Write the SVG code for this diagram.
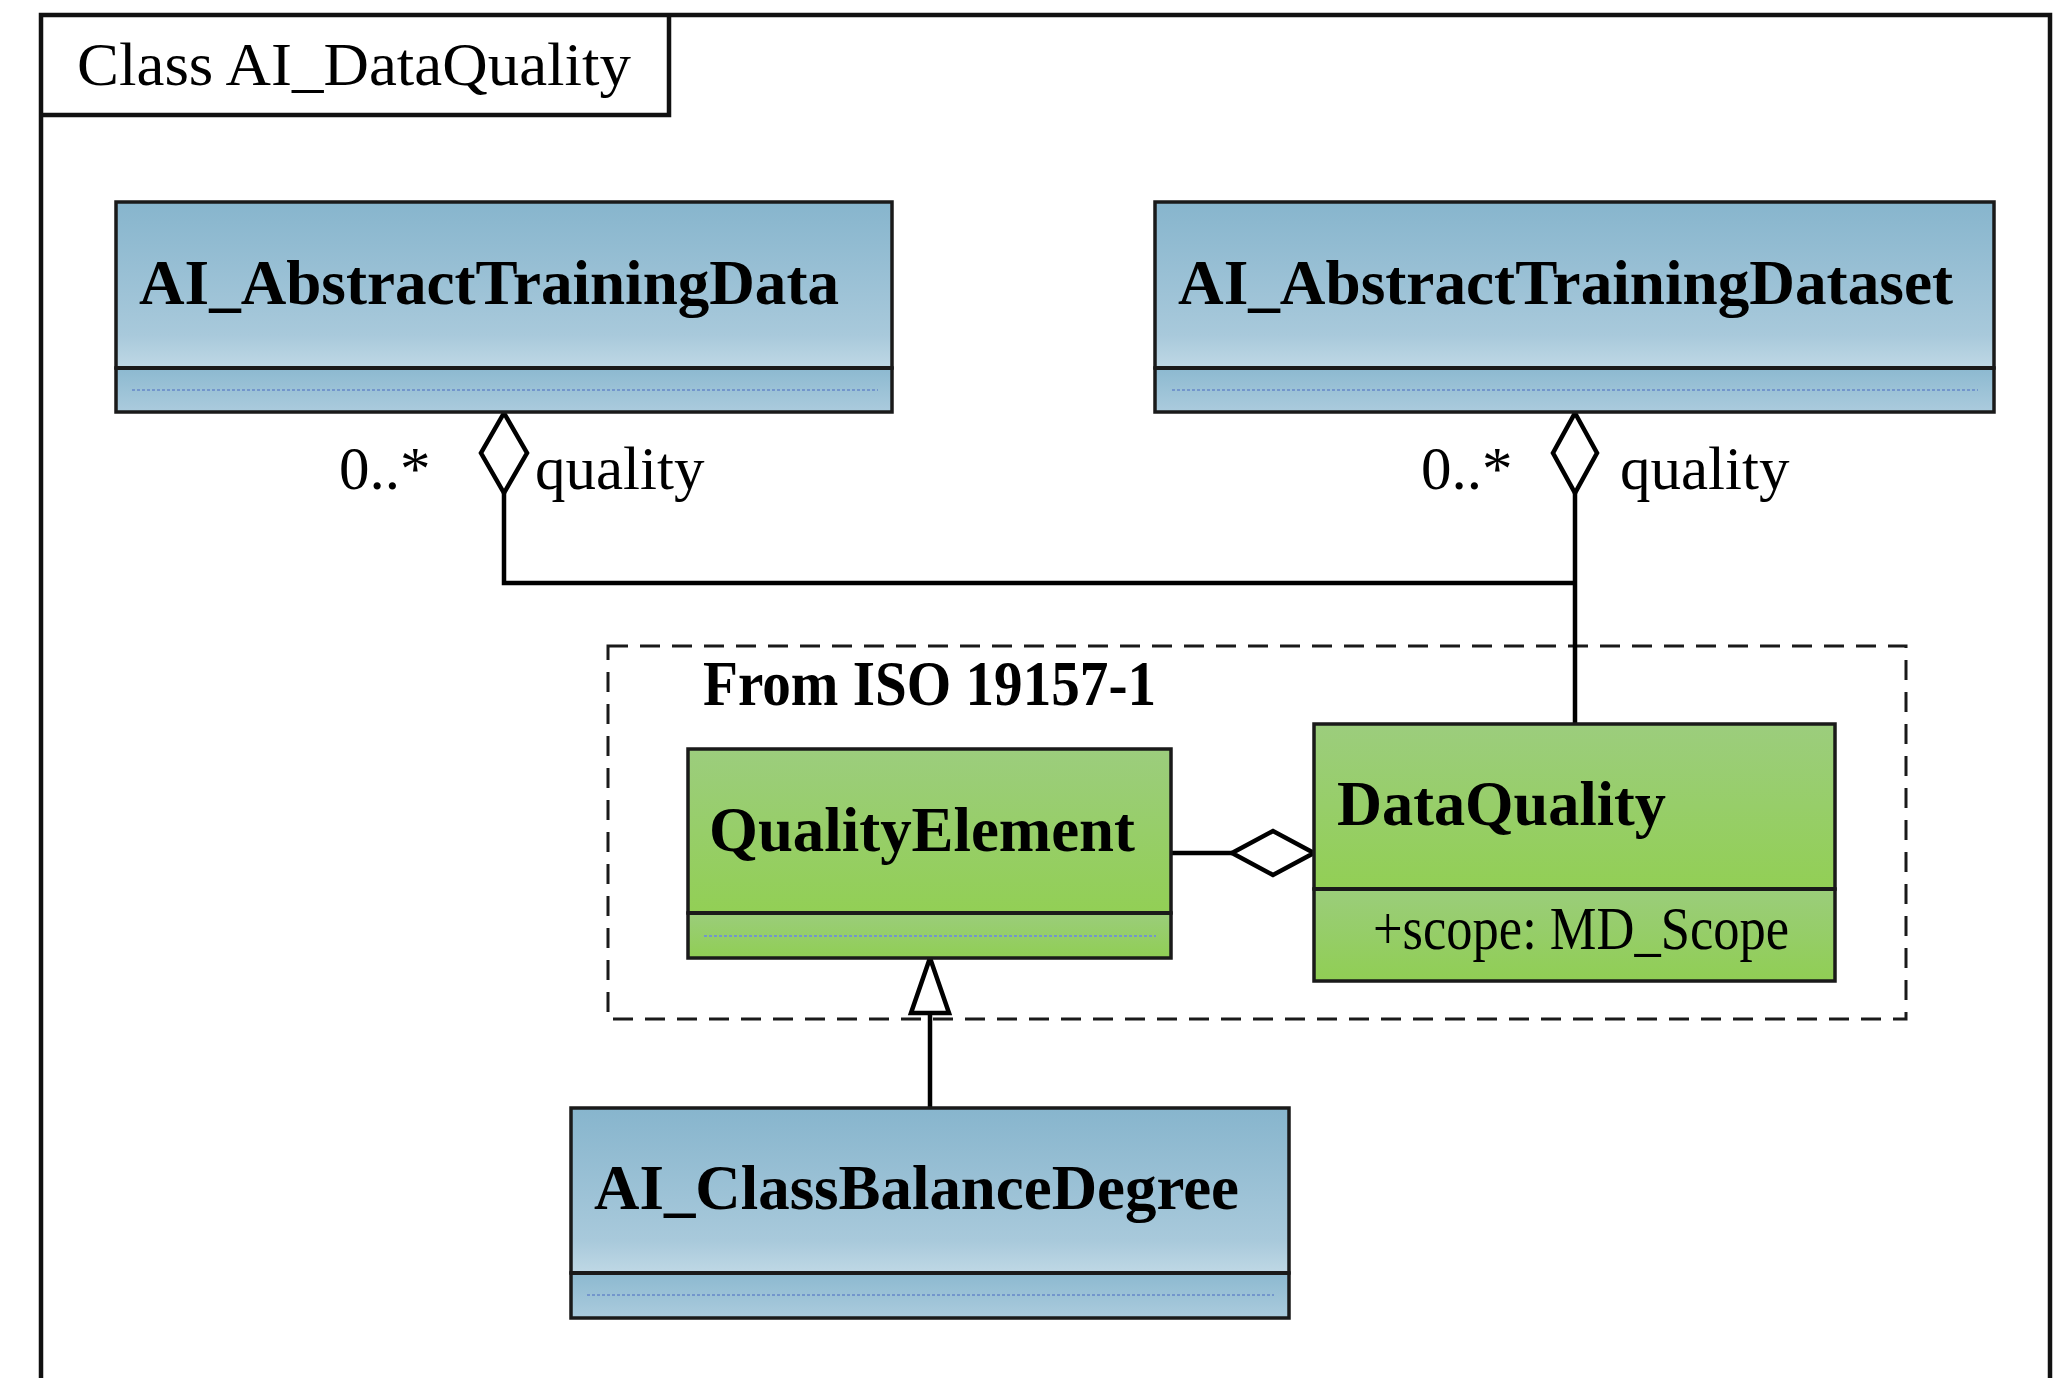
<svg xmlns="http://www.w3.org/2000/svg" width="2060" height="1378" viewBox="0 0 2060 1378">
  <defs>
    <linearGradient id="blueHead" x1="0" y1="0" x2="0" y2="1">
      <stop offset="0" stop-color="#87b5cd"/>
      <stop offset="0.8" stop-color="#a8c9db"/>
      <stop offset="1" stop-color="#bfd8e5"/>
    </linearGradient>
    <linearGradient id="blueAttr" x1="0" y1="0" x2="0" y2="1">
      <stop offset="0" stop-color="#8cb9d0"/>
      <stop offset="1" stop-color="#abcbdd"/>
    </linearGradient>
    <linearGradient id="greenHead" x1="0" y1="0" x2="0" y2="1">
      <stop offset="0" stop-color="#9ccd7d"/>
      <stop offset="1" stop-color="#92cf55"/>
    </linearGradient>
    <linearGradient id="greenAttr" x1="0" y1="0" x2="0" y2="1">
      <stop offset="0" stop-color="#9bcd7b"/>
      <stop offset="1" stop-color="#90ce54"/>
    </linearGradient>
    <style>
      .frame { fill: none; stroke: #111; stroke-width: 4.5; }
      .box { stroke: #1a1a1a; stroke-width: 3.5; }
      .sep { stroke: #1a1a1a; stroke-width: 4; }
      .dots { stroke: #7396cc; stroke-width: 2; stroke-dasharray: 3 2; }
      .pkg { fill: none; stroke: #1a1a1a; stroke-width: 3; stroke-dasharray: 20 12; }
      .conn { fill: none; stroke: #000; stroke-width: 4.5; }
      .head { fill: #fff; stroke: #000; stroke-width: 4.5; stroke-linejoin: miter; }
      .cls { font-family: "Liberation Serif", "Times New Roman", serif; font-weight: bold; font-size: 63px; fill: #000; }
      .lbl { font-family: "Liberation Serif", "Times New Roman", serif; font-size: 61px; fill: #000; }
    </style>
  </defs>

  <rect width="2060" height="1378" fill="#fff"/>

  <!-- diagram frame with its name tab -->
  <g id="frame">
    <path class="frame" d="M41,1390 V15 H2050 V1390"/>
    <path class="frame" d="M41,115 H669 V15"/>
    <text class="lbl" x="77" y="85" font-size="65" textLength="554" lengthAdjust="spacingAndGlyphs">Class AI_DataQuality</text>
  </g>

  <!-- package borrowed from ISO 19157-1 -->
  <g id="iso19157">
    <rect class="pkg" x="608" y="646" width="1298" height="373"/>
    <text class="cls" x="703" y="705" font-size="58" textLength="453" lengthAdjust="spacingAndGlyphs">From ISO 19157-1</text>
  </g>

  <!-- associations and generalization -->
  <g id="connectors">
    <path class="conn" d="M504,493 V583 H1575"/>
    <polygon class="head" points="504,413 527,453 504,493 481,453"/>
    <path class="conn" d="M1575,493 V724"/>
    <polygon class="head" points="1575,413 1597,453 1575,493 1553,453"/>
    <path class="conn" d="M1171,853 H1232"/>
    <polygon class="head" points="1232,853 1273,831 1314,853 1273,875"/>
    <path class="conn" d="M930,1013 V1108"/>
    <polygon class="head" points="930,958 949,1013 911,1013"/>
    <text class="lbl" x="339" y="489" font-size="60">0..*</text>
    <text class="lbl" x="535" y="489">quality</text>
    <text class="lbl" x="1421" y="489" font-size="60">0..*</text>
    <text class="lbl" x="1620" y="489">quality</text>
  </g>

  <g id="AI_AbstractTrainingData">
    <rect class="box" x="116" y="202" width="776" height="166" fill="url(#blueHead)"/>
    <rect class="box" x="116" y="368" width="776" height="44" fill="url(#blueAttr)"/>
    <line class="sep" x1="116" y1="368" x2="892" y2="368"/>
    <line class="dots" x1="132" y1="390" x2="878" y2="390"/>
    <text class="cls" x="139" y="304" textLength="700" lengthAdjust="spacingAndGlyphs">AI_AbstractTrainingData</text>
  </g>

  <g id="AI_AbstractTrainingDataset">
    <rect class="box" x="1155" y="202" width="839" height="166" fill="url(#blueHead)"/>
    <rect class="box" x="1155" y="368" width="839" height="44" fill="url(#blueAttr)"/>
    <line class="sep" x1="1155" y1="368" x2="1994" y2="368"/>
    <line class="dots" x1="1172" y1="390" x2="1978" y2="390"/>
    <text class="cls" x="1178" y="304" textLength="775" lengthAdjust="spacingAndGlyphs">AI_AbstractTrainingDataset</text>
  </g>

  <g id="QualityElement">
    <rect class="box" x="688" y="749" width="483" height="164" fill="url(#greenHead)"/>
    <rect class="box" x="688" y="913" width="483" height="45" fill="url(#greenAttr)"/>
    <line class="sep" x1="688" y1="913" x2="1171" y2="913"/>
    <line class="dots" x1="704" y1="936" x2="1156" y2="936"/>
    <text class="cls" x="709" y="851" textLength="426" lengthAdjust="spacingAndGlyphs">QualityElement</text>
  </g>

  <g id="DataQuality">
    <rect class="box" x="1314" y="724" width="521" height="165" fill="url(#greenHead)"/>
    <rect class="box" x="1314" y="889" width="521" height="92" fill="url(#greenAttr)"/>
    <line class="sep" x1="1314" y1="889" x2="1835" y2="889"/>
    <text class="cls" x="1337" y="825" textLength="329" lengthAdjust="spacingAndGlyphs">DataQuality</text>
    <text class="lbl" x="1373" y="949" font-size="56" textLength="416" lengthAdjust="spacingAndGlyphs">+scope: MD_Scope</text>
  </g>

  <g id="AI_ClassBalanceDegree">
    <rect class="box" x="571" y="1108" width="718" height="165" fill="url(#blueHead)"/>
    <rect class="box" x="571" y="1273" width="718" height="45" fill="url(#blueAttr)"/>
    <line class="sep" x1="571" y1="1273" x2="1289" y2="1273"/>
    <line class="dots" x1="587" y1="1295" x2="1274" y2="1295"/>
    <text class="cls" x="594" y="1209" textLength="645" lengthAdjust="spacingAndGlyphs">AI_ClassBalanceDegree</text>
  </g>
</svg>
